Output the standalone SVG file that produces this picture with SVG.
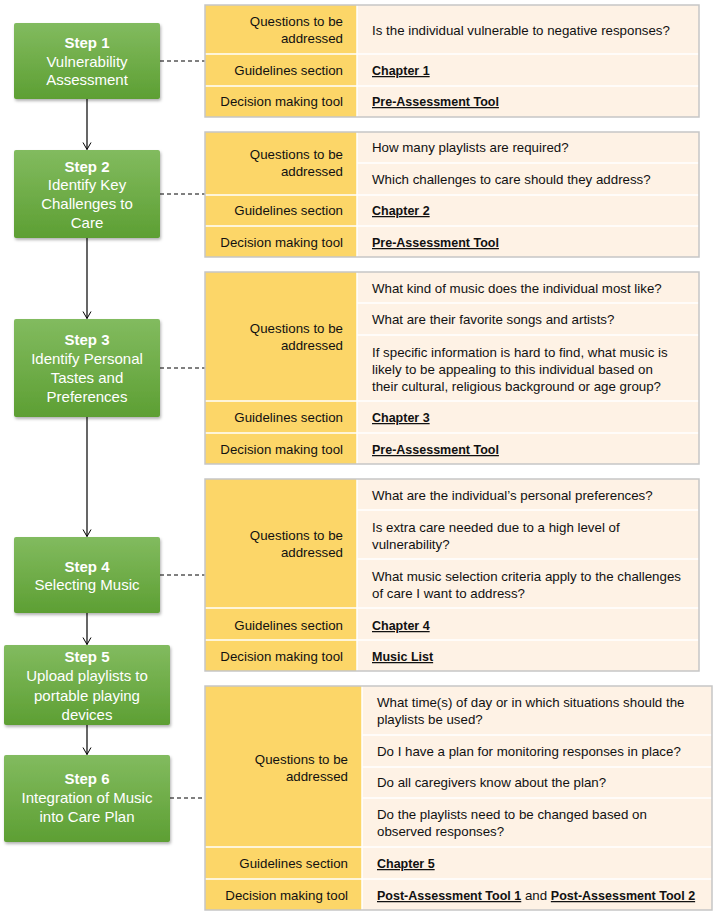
<svg xmlns="http://www.w3.org/2000/svg" width="720" height="916" viewBox="0 0 720 916">
<defs>
<linearGradient id="g" x1="0" y1="0" x2="0" y2="1">
<stop offset="0" stop-color="#82bb5f"/>
<stop offset="1" stop-color="#5d9f33"/>
</linearGradient>
<filter id="sh" x="-10%" y="-10%" width="125%" height="130%">
<feDropShadow dx="1" dy="2" stdDeviation="1.5" flood-color="#000" flood-opacity="0.3"/>
</filter>
<marker id="arr" markerWidth="10" markerHeight="10" refX="8" refY="5" orient="auto" markerUnits="userSpaceOnUse">
<path d="M1,1 L8,5 L1,9" fill="none" stroke="#000" stroke-width="1"/>
</marker>
<style>
.step{fill:url(#g);filter:url(#sh)}
.st{font-family:"Liberation Sans",Arial,sans-serif;font-size:15px;fill:#fff;text-anchor:middle}
.b{font-weight:bold}
.tb{fill:none;stroke:#c6c6c6;stroke-width:1.5}
.lc{fill:#fcd668}
.rc{fill:#fef2e5}
.sep{stroke:#fff;stroke-width:1.5}
.lt{font-family:"Liberation Sans",Arial,sans-serif;font-size:13.3px;fill:#111;text-anchor:end}
.rt{font-family:"Liberation Sans",Arial,sans-serif;font-size:13.3px;fill:#111}
.u{font-weight:bold;text-decoration:underline;font-size:12.5px}
.ar{stroke:#000;stroke-width:1.2;fill:none;marker-end:url(#arr)}
.dl{stroke:#000;stroke-width:1;stroke-dasharray:4,3;fill:none}
</style>
</defs>
<rect width="720" height="916" fill="#fff"/>

<g id="connectors">
<line class="ar" x1="87" y1="99" x2="87" y2="149.5"/>
<line class="ar" x1="87" y1="238" x2="87" y2="318.5"/>
<line class="ar" x1="87" y1="417" x2="87" y2="536.5"/>
<line class="ar" x1="87" y1="613" x2="87" y2="644.5"/>
<line class="ar" x1="87" y1="725" x2="87" y2="754.5"/>
<line class="dl" x1="160" y1="61" x2="205" y2="61"/>
<line class="dl" x1="160" y1="194" x2="205" y2="194"/>
<line class="dl" x1="160" y1="368" x2="205" y2="368"/>
<line class="dl" x1="160" y1="575" x2="205" y2="575"/>
<line class="dl" x1="170" y1="798" x2="205" y2="798"/>
</g>

<g id="step1">
<rect class="step" x="14" y="23" width="146" height="76" rx="2"/>
<text class="st b" x="87" y="48">Step 1</text>
<text class="st" x="87" y="67">Vulnerability</text>
<text class="st" x="87" y="85">Assessment</text>
</g>
<g id="step2">
<rect class="step" x="14" y="150" width="146" height="88" rx="2"/>
<text class="st b" x="87" y="172">Step 2</text>
<text class="st" x="87" y="190">Identify Key</text>
<text class="st" x="87" y="209">Challenges to</text>
<text class="st" x="87" y="228">Care</text>
</g>
<g id="step3">
<rect class="step" x="14" y="319" width="146" height="98" rx="2"/>
<text class="st b" x="87" y="345">Step 3</text>
<text class="st" x="87" y="364">Identify Personal</text>
<text class="st" x="87" y="383">Tastes and</text>
<text class="st" x="87" y="402">Preferences</text>
</g>
<g id="step4">
<rect class="step" x="14" y="537" width="146" height="76" rx="2"/>
<text class="st b" x="87" y="572">Step 4</text>
<text class="st" x="87" y="590">Selecting Music</text>
</g>
<g id="step5">
<rect class="step" x="4" y="645" width="166" height="80" rx="2"/>
<text class="st b" x="87" y="662">Step 5</text>
<text class="st" x="87" y="681">Upload playlists to</text>
<text class="st" x="87" y="701">portable playing</text>
<text class="st" x="87" y="720">devices</text>
</g>
<g id="step6">
<rect class="step" x="4" y="755" width="166" height="87" rx="2"/>
<text class="st b" x="87" y="784">Step 6</text>
<text class="st" x="87" y="803">Integration of Music</text>
<text class="st" x="87" y="822">into Care Plan</text>
</g>

<g id="table1">
<rect class="lc" x="205" y="5" width="152" height="112"/>
<rect class="rc" x="357" y="5" width="342" height="112"/>
<line class="sep" x1="357" y1="5" x2="357" y2="117"/>
<line class="sep" x1="205" y1="54" x2="699" y2="54"/>
<line class="sep" x1="205" y1="86" x2="699" y2="86"/>
<rect class="tb" x="205" y="5" width="494" height="112"/>
<text class="lt" x="343" y="26">Questions to be</text>
<text class="lt" x="343" y="43">addressed</text>
<text class="lt" x="343" y="75">Guidelines  section</text>
<text class="lt" x="343" y="106">Decision making tool</text>
<text class="rt" x="372" y="35">Is the individual vulnerable to negative responses?</text>
<text class="rt u" x="372" y="75">Chapter 1</text>
<text class="rt u" x="372" y="106">Pre-Assessment Tool</text>
</g>

<g id="table2">
<rect class="lc" x="205" y="132" width="152" height="125"/>
<rect class="rc" x="357" y="132" width="342" height="125"/>
<line class="sep" x1="357" y1="132" x2="357" y2="257"/>
<line class="sep" x1="357" y1="163" x2="699" y2="163"/>
<line class="sep" x1="205" y1="195" x2="699" y2="195"/>
<line class="sep" x1="205" y1="226" x2="699" y2="226"/>
<rect class="tb" x="205" y="132" width="494" height="125"/>
<text class="lt" x="343" y="159">Questions to be</text>
<text class="lt" x="343" y="176">addressed</text>
<text class="lt" x="343" y="215">Guidelines  section</text>
<text class="lt" x="343" y="247">Decision making tool</text>
<text class="rt" x="372" y="152">How many playlists are required?</text>
<text class="rt" x="372" y="184">Which challenges to care should they address?</text>
<text class="rt u" x="372" y="215">Chapter 2</text>
<text class="rt u" x="372" y="247">Pre-Assessment Tool</text>
</g>

<g id="table3">
<rect class="lc" x="205" y="272" width="152" height="192"/>
<rect class="rc" x="357" y="272" width="342" height="192"/>
<line class="sep" x1="357" y1="272" x2="357" y2="464"/>
<line class="sep" x1="357" y1="303" x2="699" y2="303"/>
<line class="sep" x1="357" y1="335" x2="699" y2="335"/>
<line class="sep" x1="205" y1="401" x2="699" y2="401"/>
<line class="sep" x1="205" y1="433" x2="699" y2="433"/>
<rect class="tb" x="205" y="272" width="494" height="192"/>
<text class="lt" x="343" y="333">Questions to be</text>
<text class="lt" x="343" y="350">addressed</text>
<text class="lt" x="343" y="422">Guidelines  section</text>
<text class="lt" x="343" y="454">Decision making tool</text>
<text class="rt" x="372" y="293">What kind of music does the individual most like?</text>
<text class="rt" x="372" y="324">What are their favorite songs and artists?</text>
<text class="rt" x="372" y="357">If specific information is hard to find, what music is</text>
<text class="rt" x="372" y="374">likely to be appealing to this individual based on</text>
<text class="rt" x="372" y="391">their cultural, religious background or age group?</text>
<text class="rt u" x="372" y="422">Chapter 3</text>
<text class="rt u" x="372" y="454">Pre-Assessment Tool</text>
</g>

<g id="table4">
<rect class="lc" x="205" y="479" width="152" height="192"/>
<rect class="rc" x="357" y="479" width="342" height="192"/>
<line class="sep" x1="357" y1="479" x2="357" y2="671"/>
<line class="sep" x1="357" y1="510" x2="699" y2="510"/>
<line class="sep" x1="357" y1="559" x2="699" y2="559"/>
<line class="sep" x1="205" y1="608" x2="699" y2="608"/>
<line class="sep" x1="205" y1="640" x2="699" y2="640"/>
<rect class="tb" x="205" y="479" width="494" height="192"/>
<text class="lt" x="343" y="540">Questions to be</text>
<text class="lt" x="343" y="557">addressed</text>
<text class="lt" x="343" y="630">Guidelines  section</text>
<text class="lt" x="343" y="661">Decision making tool</text>
<text class="rt" x="372" y="500">What are the individual’s personal preferences?</text>
<text class="rt" x="372" y="532">Is extra care needed due to a high level of</text>
<text class="rt" x="372" y="549">vulnerability?</text>
<text class="rt" x="372" y="581">What music selection criteria apply to the challenges</text>
<text class="rt" x="372" y="598">of care I want to address?</text>
<text class="rt u" x="372" y="630">Chapter 4</text>
<text class="rt u" x="372" y="661">Music List</text>
</g>

<g id="table5">
<rect class="lc" x="205" y="686" width="157" height="224"/>
<rect class="rc" x="362" y="686" width="350" height="224"/>
<line class="sep" x1="362" y1="686" x2="362" y2="910"/>
<line class="sep" x1="362" y1="735" x2="712" y2="735"/>
<line class="sep" x1="362" y1="767" x2="712" y2="767"/>
<line class="sep" x1="362" y1="798" x2="712" y2="798"/>
<line class="sep" x1="205" y1="847" x2="712" y2="847"/>
<line class="sep" x1="205" y1="879" x2="712" y2="879"/>
<rect class="tb" x="205" y="686" width="507" height="224"/>
<text class="lt" x="348" y="764">Questions to be</text>
<text class="lt" x="348" y="781">addressed</text>
<text class="lt" x="348" y="868">Guidelines  section</text>
<text class="lt" x="348" y="900">Decision making tool</text>
<text class="rt" x="377" y="707">What time(s) of day or in which situations should the</text>
<text class="rt" x="377" y="724">playlists be used?</text>
<text class="rt" x="377" y="756">Do I have a plan for monitoring responses in place?</text>
<text class="rt" x="377" y="787">Do all caregivers know about the plan?</text>
<text class="rt" x="377" y="819">Do the playlists need to be changed based on</text>
<text class="rt" x="377" y="836">observed responses?</text>
<text class="rt u" x="377" y="868">Chapter 5</text>
<text class="rt" x="377" y="900"><tspan class="u">Post-Assessment Tool 1</tspan> and <tspan class="u">Post-Assessment Tool 2</tspan></text>
</g>
</svg>
